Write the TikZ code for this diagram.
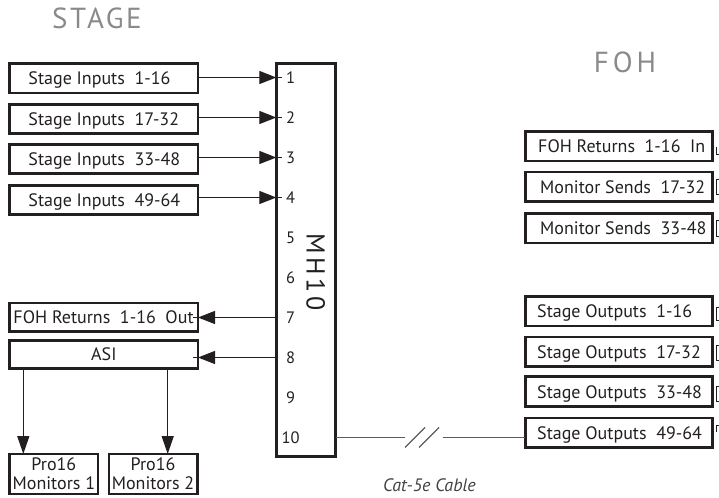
\documentclass[tikz,border=0pt]{standalone}
\usepackage{fontspec}
\setmainfont{PT Sans}
\newfontfamily\stagefont[LetterSpace=9]{PT Sans}
\newfontfamily\fohfont[LetterSpace=14]{PT Sans}
\newfontfamily\mhfont[LetterSpace=14]{PT Sans}
\usetikzlibrary{arrows.meta}
\definecolor{ink}{HTML}{231F20}
\definecolor{titlegray}{HTML}{8A8A8A}
\definecolor{cablegray}{HTML}{5C5C5C}
\begin{document}
\begin{tikzpicture}[x=1bp,y=-1bp,
  box/.style={draw=ink, line width=2.6bp, rectangle, inner sep=0pt, outer sep=0pt},
  lbox/.style={box, minimum width=188.3bp, minimum height=29.3bp},
  rbox/.style={box, minimum width=187.4bp, minimum height=29.5bp},
  pbox/.style={box, minimum width=88.4bp, minimum height=40bp},
  lbl/.style={inner sep=0pt, text=ink, font=\fontsize{18bp}{20bp}\selectfont},
  num/.style={inner sep=0pt, text=ink, font=\fontsize{16.5bp}{18bp}\selectfont},
  title/.style={inner sep=0pt, text=titlegray},
  conn/.style={draw=ink, line width=1.3bp},
  arr/.style={conn, -{Triangle[length=17bp,width=13bp]}},
  darr/.style={conn, -{Triangle[length=18bp,width=12bp]}},
  cable/.style={draw=cablegray, line width=1.4bp},
  stub/.style={draw=ink, line width=0.9bp},
]
\useasboundingbox (0,0) rectangle (719,498);

% titles
\node[title, anchor=base, font={\fontsize{29bp}{30bp}\stagefont}] (stage) at (97,28.3) {STAGE};
\node[title, anchor=base, font={\fontsize{29bp}{30bp}\fohfont}] (foh) at (625,72.7) {FOH};

% MH10 unit
\node[box, minimum width=59.4bp, minimum height=393.4bp] (mh) at (306,260) {};
\node[inner sep=0pt, text=ink, rotate=-90, anchor=base, font={\fontsize{26bp}{28bp}\mhfont}] (mhlbl) at (306.7,272) {MH10};
\foreach \i in {1,...,10} {
  \node[num] (n\i) at (290.5,{77.5+40*(\i-1)}) {\i};
}

% stage inputs
\node[lbox] (si1) at (103.85,78.35) {};
\node[lbox] (si2) at (103.85,119) {};
\node[lbox] (si3) at (103.85,159) {};
\node[lbox] (si4) at (103.85,200) {};
\node[lbl, anchor=base west] (tsi1) at ([xshift=18.6bp,yshift=-6.6bp]si1.west) {Stage Inputs\ \ 1-16};
\node[lbl, anchor=base west] (tsi2) at ([xshift=18.6bp,yshift=-6.6bp]si2.west) {Stage Inputs\ \ 17-32};
\node[lbl, anchor=base west] (tsi3) at ([xshift=18.6bp,yshift=-6.6bp]si3.west) {Stage Inputs\ \ 33-48};
\node[lbl, anchor=base west] (tsi4) at ([xshift=18.6bp,yshift=-6.6bp]si4.west) {Stage Inputs\ \ 49-64};

% returns / ASI
\node[lbox, minimum height=28.5bp] (fohout) at (103.85,317.2) {};
\node[lbox, minimum height=28.5bp] (asi) at (103.85,354.5) {};
\node[lbl, anchor=base west] (tfohout) at ([xshift=3.6bp,yshift=-6.6bp]fohout.west) {FOH Returns\ \ 1-16\ \ Out};
\node[lbl, anchor=base] (tasi) at ([yshift=-6.4bp]asi.center) {ASI};

% Pro16 monitors
\node[pbox] (p1) at (53.85,474) {};
\node[pbox] (p2) at (153,474) {};
\node[lbl, align=center, font=\fontsize{18bp}{19.3bp}\selectfont] (tp1) at (p1.center) {Pro16\\Monitors 1};
\node[lbl, align=center, font=\fontsize{18bp}{19.3bp}\selectfont] (tp2) at (p2.center) {Pro16\\Monitors 2};
\coordinate (ax1) at (23.3,0);
\coordinate (ax2) at (167.7,0);

% FOH side boxes
\node[rbox] (fohin) at (619,146.3) {};
\node[rbox] (ms1) at (619,186.8) {};
\node[rbox] (ms2) at (619,228.3) {};
\node[rbox] (so1) at (619,311.2) {};
\node[rbox] (so2) at (619,351.7) {};
\node[rbox] (so3) at (619,391.5) {};
\node[rbox] (so4) at (619,432.8) {};
\node[lbl, anchor=base west] (tfohin) at ([xshift=12.7bp,yshift=-6.6bp]fohin.west) {FOH Returns\ \ 1-16\ \ In};
\node[lbl, anchor=base west] (tms1) at ([xshift=14.7bp,yshift=-6.6bp]ms1.west) {Monitor Sends\ \ 17-32};
\node[lbl, anchor=base west] (tms2) at ([xshift=14.7bp,yshift=-6.6bp]ms2.west) {Monitor Sends\ \ 33-48};
\node[lbl, anchor=base west] (tso1) at ([xshift=11.7bp,yshift=-6.6bp]so1.west) {Stage Outputs\ \ 1-16};
\node[lbl, anchor=base west] (tso2) at ([xshift=11.7bp,yshift=-6.6bp]so2.west) {Stage Outputs\ \ 17-32};
\node[lbl, anchor=base west] (tso3) at ([xshift=11.7bp,yshift=-6.6bp]so3.west) {Stage Outputs\ \ 33-48};
\node[lbl, anchor=base west] (tso4) at ([xshift=11.7bp,yshift=-6.6bp]so4.west) {Stage Outputs\ \ 49-64};

% input arrows
\foreach \b/\n in {si1/n1, si2/n2, si3/n3, si4/n4} {
  \draw[arr] (\b.east |- \n) -- (mh.west |- \n);
  \draw[conn] (mh.west |- \n) -- ++(5.5,0);
}
% output arrows
\foreach \b/\n in {fohout/n7, asi/n8} {
  \draw[arr] (mh.west |- \n) -- (\b.east |- \n);
  \draw[conn] (\b.east |- \n) -- ++(-5.5,0);
}
% ASI to monitors
\draw[darr] (asi.south -| ax1) -- (p1.north -| ax1);
\draw[darr] (asi.south -| ax2) -- (p2.north -| ax2);

% Cat-5e cable
\coordinate (brk1) at (405,437.5);
\coordinate (brk2) at (443,437.5);
\draw[cable] (mh.east |- n10) -- (brk1);
\draw[cable] (brk2) -- (so4.west |- n10);
\draw[cable] ([shift={(0,10)}]brk1) -- ++(20,-20);
\draw[cable] ([shift={(14,10)}]brk1) -- ++(20,-20);
\node[inner sep=0pt, anchor=base, text=ink!85, font=\fontsize{18bp}{19bp}\itshape] (cat) at (429.5,491) {Cat-5e Cable};

% bracket stubs at right edge
\draw[stub] (716,147) -- (716,154) -- (721,154);
\draw[stub] (721,179) -- (716,179) -- (716,194) -- (721,194);
\draw[stub] (721,220) -- (716,220) -- (716,236) -- (721,236);
\draw[stub] (721,307) -- (716,307) -- (716,320) -- (721,320);
\draw[stub] (721,345) -- (716,345) -- (716,360) -- (721,360);
\draw[stub] (721,386) -- (716,386) -- (716,401) -- (721,401);
\draw[stub] (721,425) -- (716,425) -- (716,432) ;
\end{tikzpicture}
\end{document}
